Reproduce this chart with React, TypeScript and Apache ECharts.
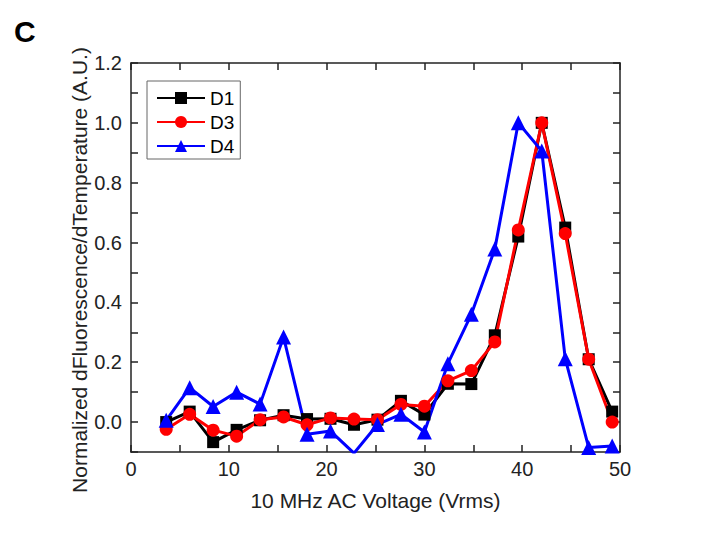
import React, { useEffect, useRef } from "react";
import * as echarts from "echarts";

const voltages = [3.6, 6.0, 8.4, 10.8, 13.2, 15.6, 18.0, 20.4, 22.8, 25.2, 27.6, 30.0, 32.4, 34.8, 37.2, 39.6, 42.0, 44.4, 46.8, 49.2];
const d1 = [0.0, 0.035, -0.067, -0.026, 0.006, 0.023, 0.01, 0.011, -0.009, 0.008, 0.071, 0.025, 0.128, 0.127, 0.29, 0.62, 1.0, 0.65, 0.21, 0.035];
const d3 = [-0.024, 0.026, -0.027, -0.047, 0.008, 0.017, -0.009, 0.014, 0.01, 0.008, 0.059, 0.053, 0.138, 0.172, 0.268, 0.642, 1.0, 0.63, 0.21, 0.0];
const d4 = [0.006, 0.115, 0.052, 0.1, 0.06, 0.284, -0.041, -0.03, -0.104, -0.008, 0.026, -0.033, 0.195, 0.36, 0.578, 1.0, 0.906, 0.212, -0.085, -0.08];
const seriesNames = ["D1", "D3", "D4"];

const FONT = "'Liberation Sans', Arial, sans-serif";
const NARROW = "'Liberation Sans Narrow', 'Arial Narrow', 'Liberation Sans', sans-serif";

export default function App() {
  const ref = useRef<HTMLDivElement>(null);
  useEffect(() => {
    if (!ref.current) return;
    const chart = echarts.init(ref.current, null, { renderer: "svg" });
    const pair = (ys: number[]) => voltages.map((x, i) => [x, ys[i]]);
    const axisLine = { show: true, onZero: false, lineStyle: { color: "#222", width: 1.5 } };
    const tick = { show: true, inside: true, length: 7, lineStyle: { color: "#222", width: 1.5 } };
    const xBase = { type: "value" as const, min: 0, max: 50, interval: 5, splitLine: { show: false }, axisLine, axisTick: tick };
    const yBase = { type: "value" as const, min: -0.1, max: 1.2, interval: 0.1, splitLine: { show: false }, axisLine, axisTick: tick };
    const mk = (name: string, data: number[], color: string, symbol: string, size: number) => ({
      name,
      type: "line",
      data: pair(data),
      symbol,
      symbolSize: size,
      clip: true,
      lineStyle: { color, width: 3 },
      itemStyle: { color },
      z: 2,
    });
    chart.setOption({
      animation: false,
      backgroundColor: "#ffffff",
      textStyle: { fontFamily: FONT },
      grid: { left: 131, right: 91, top: 63, bottom: 82 },
      graphic: [
        {
          type: "text",
          x: 14,
          y: 31,
          style: { text: "C", font: "bold 30px " + FONT, fill: "#000", textAlign: "left", textVerticalAlign: "middle" },
        },
        {
          type: "text",
          x: 79,
          y: 270,
          rotation: Math.PI / 2,
          style: {
            text: "Normalized dFluorescence/dTemperature (A.U.)",
            font: "21px " + FONT,
            fill: "#222",
            textAlign: "center",
            textVerticalAlign: "middle",
          },
        },
      ],
      legend: {
        data: seriesNames,
        orient: "vertical",
        left: 147,
        top: 81,
        padding: [7, 6, 3, 9],
        itemWidth: 48,
        itemHeight: 15,
        itemGap: 4,
        borderColor: "#666",
        borderWidth: 1,
        textStyle: { fontSize: 19, lineHeight: 20, color: "#000", fontFamily: FONT },
      },
      xAxis: [
        {
          ...xBase,
          position: "bottom",
          name: "10 MHz AC Voltage (Vrms)",
          nameLocation: "middle",
          nameGap: 38,
          nameTextStyle: { fontSize: 21, color: "#222", fontFamily: FONT },
          axisLabel: {
            fontSize: 20,
            color: "#222",
            margin: 7,
            fontFamily: NARROW,
            formatter: (v: number) => (v % 10 === 0 ? String(v) : ""),
          },
        },
        { ...xBase, position: "top", axisLabel: { show: false } },
      ],
      yAxis: [
        {
          ...yBase,
          position: "left",
          axisLabel: {
            fontSize: 20,
            color: "#222",
            margin: 9,
            fontFamily: NARROW,
            formatter: (v: number) => (Math.abs(Math.round(v * 10)) % 2 === 0 ? v.toFixed(1) : ""),
          },
        },
        { ...yBase, position: "right", axisLabel: { show: false } },
      ],
      series: [
        mk("D1", d1, "#000000", "rect", 12),
        mk("D3", d3, "#ff0000", "circle", 13),
        mk("D4", d4, "#0000ff", "triangle", 15),
      ],
    });
    return () => chart.dispose();
  }, []);
  return <div ref={ref} style={{ position: "absolute", left: 0, top: 0, width: 711, height: 534 }} />;
}
